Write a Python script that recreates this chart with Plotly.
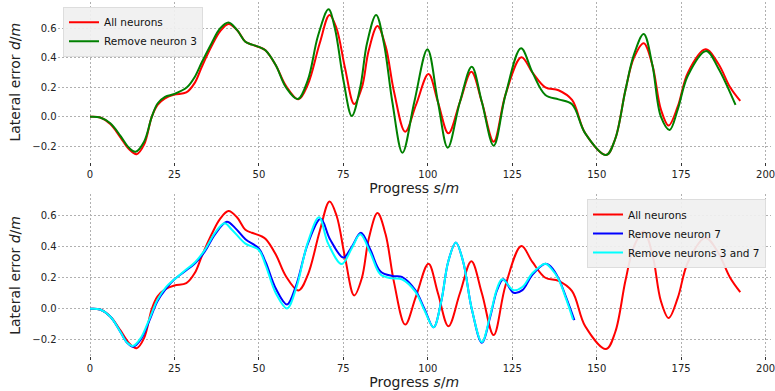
import plotly.graph_objects as go

# ---------------- data ----------------
all_x = [0, 3, 6, 9, 11.5, 13.8, 16, 18.3, 20, 22.2, 25, 28.5, 31, 33.1, 36, 38.5, 41, 43.5, 46,
         47.9, 50.5, 52, 55, 58, 61.7, 64.5, 68, 70.9, 73, 75.5, 78.2, 80.5, 82.5, 85.1, 87.5, 90,
         93.3, 96.5, 100.2, 103, 106.1, 109.5, 112.9, 116, 119.5, 123, 127.7, 131, 134.8, 138.7,
         142.7, 146.6, 152.8, 155.5, 158.5, 161, 163.9, 166.5, 169, 171.3, 174, 177, 182.2, 186,
         189.5, 192.5]
all_y = [0, -0.005, -0.05, -0.14, -0.22, -0.255, -0.19, 0.0, 0.08, 0.125, 0.15, 0.165, 0.23, 0.34,
         0.48, 0.58, 0.63, 0.59, 0.51, 0.49, 0.47, 0.45, 0.35, 0.21, 0.118, 0.22, 0.5, 0.692, 0.6,
         0.33, 0.086, 0.2, 0.45, 0.617, 0.48, 0.17, -0.102, 0.08, 0.29, 0.1, -0.113, 0.1, 0.306,
         0.1, -0.17, 0.15, 0.404, 0.3, 0.2, 0.18, 0.114, -0.113, -0.26, -0.15, 0.18, 0.4, 0.5,
         0.35, 0.05, -0.06, 0.07, 0.3, 0.458, 0.36, 0.2, 0.107]

rm3_x = [0, 3, 6, 9, 11.5, 13.5, 16, 18.3, 20, 22.2, 25, 28.7, 31, 33.1, 36, 38.5, 41, 43.5, 46,
         48, 50.5, 52, 55, 58, 61.5, 64.5, 67.5, 70.6, 72.5, 75, 77.5, 80, 82, 84.7, 87, 89.5,
         92.5, 96, 99.9, 103, 105.9, 109.5, 113, 116, 119.5, 123, 127.6, 131, 134.8, 138.7,
         142.7, 146.6, 152.8, 155.5, 158.5, 161, 163.9, 166.5, 169, 171.6, 174, 177, 182.4, 186,
         191.1]
rm3_y = [0, -0.005, -0.045, -0.13, -0.21, -0.238, -0.17, 0.0, 0.09, 0.135, 0.155, 0.2, 0.27, 0.37,
         0.5, 0.6, 0.64, 0.59, 0.51, 0.49, 0.47, 0.45, 0.35, 0.2, 0.12, 0.25, 0.55, 0.73, 0.6,
         0.25, 0.005, 0.2, 0.5, 0.692, 0.5, 0.1, -0.245, 0.1, 0.458, 0.1, -0.211, 0.1, 0.34, 0.1,
         -0.197, 0.15, 0.465, 0.3, 0.148, 0.118, 0.085, -0.113, -0.26, -0.15, 0.18, 0.42, 0.563,
         0.35, 0.0, -0.09, 0.05, 0.28, 0.447, 0.33, 0.08]

rm7_x = [0, 3, 6, 9, 11, 12.8, 15, 17.5, 20, 22.5, 25, 28, 31.1, 34, 37, 40.5, 43, 46, 49.9, 52,
         55, 58.3, 61, 64.5, 68.3, 71, 75, 77.5, 80.2, 83, 86, 89.5, 92.3, 96.3, 99, 101.7, 104,
         106, 108.3, 110.5, 113, 116, 118.5, 120.5, 122.4, 125.4, 128, 131, 134.8, 136.5, 138.7,
         141, 143.4]
rm7_y = [0, -0.005, -0.05, -0.15, -0.22, -0.245, -0.2, -0.08, 0.05, 0.13, 0.19, 0.24, 0.293, 0.37,
         0.48, 0.561, 0.52, 0.448, 0.39, 0.3, 0.13, 0.028, 0.15, 0.42, 0.58, 0.45, 0.33, 0.4,
         0.49, 0.38, 0.24, 0.211, 0.205, 0.12, 0.0, -0.12, 0.05, 0.3, 0.428, 0.3, 0.0, -0.219,
         -0.05, 0.12, 0.19, 0.103, 0.12, 0.22, 0.29, 0.27, 0.196, 0.07, -0.073]

rm37_x = [0, 3, 6, 9, 11, 12.7, 15, 17.5, 20, 22.5, 25, 28, 31.1, 34, 37, 39.8, 42, 46, 49.9, 52,
          55, 58.3, 61, 64.5, 67.8, 70.5, 74.5, 77.5, 80, 83, 86, 89.5, 92.3, 96.3, 99, 101.7,
          104, 106, 108.3, 110.5, 113, 116, 118.5, 120.5, 122, 125.4, 128, 131, 134.8, 136.5,
          138.7, 141, 143]
rm37_y = [0, -0.005, -0.05, -0.15, -0.22, -0.24, -0.19, -0.07, 0.06, 0.14, 0.19, 0.245, 0.3, 0.38,
          0.49, 0.551, 0.51, 0.42, 0.38, 0.28, 0.1, 0.002, 0.13, 0.43, 0.59, 0.42, 0.288, 0.39,
          0.48, 0.36, 0.22, 0.196, 0.19, 0.11, -0.01, -0.12, 0.05, 0.3, 0.428, 0.3, 0.0, -0.215,
          -0.04, 0.13, 0.19, 0.12, 0.14, 0.23, 0.29, 0.26, 0.19, 0.06, -0.07]

x_ticks = [0, 25, 50, 75, 100, 125, 150, 175, 200]
y_ticks = [-0.2, 0.0, 0.2, 0.4, 0.6]

# ---------------- figure ----------------
W, H = 775, 391
FONT = "DejaVu Sans"
fig = go.Figure()

def line(x, y, name, color, xa, ya, legend):
    fig.add_trace(go.Scatter(x=x, y=y, name=name, mode="lines", xaxis=xa, yaxis=ya,
                             legend=legend,
                             line=dict(color=color, width=2, shape="spline", smoothing=1.0)))

line(all_x, all_y, "All neurons", "#ff0000", "x", "y", "legend")
line(rm3_x, rm3_y, "Remove neuron 3", "#008000", "x", "y", "legend")
line(all_x, all_y, "All neurons", "#ff0000", "x2", "y2", "legend2")
line(rm7_x, rm7_y, "Remove neuron 7", "#0000ff", "x2", "y2", "legend2")
line(rm37_x, rm37_y, "Remove neurons 3 and 7", "#00ffff", "x2", "y2", "legend2")

xdom = [57.6 / W, 771 / W]
grid = dict(showgrid=True, gridcolor="#b0b0b0", gridwidth=1, griddash="2px,2px",
            zeroline=False, showline=False, automargin=False)
xcommon = dict(range=[-9.6, 201.6], tickvals=x_ticks, domain=xdom,
               ticks="outside", ticklen=3, tickcolor="#333333", ticklabeloverflow="allow",
               tickfont=dict(size=10, color="#222222"), **grid)
xtitle = "Progress <i>s</i>/<i>m</i>"
ytitle = "Lateral error <i>d</i>/<i>m</i>"
ycommon = dict(tickvals=y_ticks, tickformat=".1f", ticks="", ticklen=0,
               tickfont=dict(size=10, color="#222222"), **grid)

fig.update_layout(
    width=W, height=H, margin=dict(l=0, r=0, t=0, b=0),
    paper_bgcolor="white", plot_bgcolor="white",
    font=dict(family=FONT, color="#222222"),
    xaxis=dict(anchor="y", title=dict(text=xtitle, font=dict(size=14), standoff=2), **xcommon),
    yaxis=dict(anchor="x", domain=[1 - 162.3 / H, 1 - 2 / H], range=[-0.31, 0.78],
               title=dict(text=ytitle, font=dict(size=14), standoff=8), **ycommon),
    xaxis2=dict(anchor="y2", title=dict(text=xtitle, font=dict(size=14), standoff=2), **xcommon),
    yaxis2=dict(anchor="x2", domain=[1 - 356.4 / H, 1 - 194.4 / H], range=[-0.3075, 0.7375],
                title=dict(text=ytitle, font=dict(size=14), standoff=8), **ycommon),
    legend=dict(x=63 / W, y=1 - 6.7 / H, xanchor="left", yanchor="top",
                bgcolor="rgba(240,240,240,0.92)", bordercolor="#dddddd", borderwidth=1,
                font=dict(size=10.5, color="#111111"), itemwidth=30, tracegroupgap=0),
    legend2=dict(x=766 / W, y=1 - 199 / H, xanchor="right", yanchor="top",
                 bgcolor="rgba(240,240,240,0.92)", bordercolor="#dddddd", borderwidth=1,
                 font=dict(size=10.5, color="#111111"), itemwidth=30, tracegroupgap=0),
    showlegend=True,
)

fig.write_html("out.html", config={"displayModeBar": False},
               post_script="document.body.style.margin='0px';")
